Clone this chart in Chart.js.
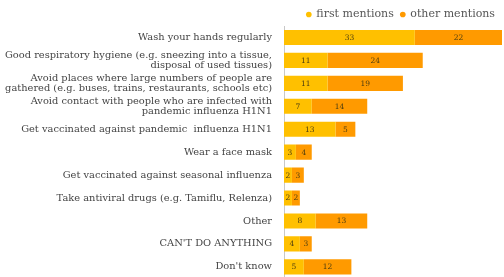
<!DOCTYPE html>
<html>
<head>
<meta charset="utf-8">
<script src="https://cdn.jsdelivr.net/npm/chart.js@4"></script>
<style>
  html, body { margin: 0; padding: 0; background: #fff; }
  #wrap { width: 504px; height: 277px; position: relative; overflow: hidden; }
  #chartOne { display: block; }
</style>
</head>
<body>
<div id="wrap"><canvas id="chartOne"></canvas></div>
<script>
var categories = [
    'Wash your hands regularly',
    ['Good respiratory hygiene (e.g. sneezing into a tissue,', 'disposal of used tissues)'],
    ['Avoid places where large numbers of people are', 'gathered (e.g. buses, trains, restaurants, schools etc)'],
    ['Avoid contact with people who are infected with', 'pandemic influenza H1N1'],
    'Get vaccinated against pandemic  influenza H1N1',
    'Wear a face mask',
    'Get vaccinated against seasonal influenza',
    'Take antiviral drugs (e.g. Tamiflu, Relenza)',
    'Other',
    "CAN'T DO ANYTHING",
    "Don't know"
];
var firstMentions = [33, 11, 11, 7, 13, 3, 2, 2, 8, 4, 5];
var otherMentions = [22, 24, 19, 14, 5, 4, 3, 2, 13, 3, 12];
var seriesNames = ['first mentions', 'other mentions'];

var serif = "'DejaVu Serif', 'Liberation Serif', serif";

var barLabels = {
    id: 'barLabels',
    afterDatasetsDraw: function (chart) {
        var ctx = chart.ctx;
        ctx.save();
        ctx.font = '7.5px ' + serif;
        ctx.fillStyle = '#4a3c10';
        ctx.textAlign = 'center';
        ctx.textBaseline = 'middle';
        chart.data.datasets.forEach(function (ds, i) {
            var meta = chart.getDatasetMeta(i);
            meta.data.forEach(function (bar, j) {
                var p = bar.getProps(['x', 'y', 'base'], true);
                ctx.fillText(ds.data[j], (p.x + p.base) / 2, p.y + 0.5);
            });
        });
        ctx.restore();
    }
};

var chartOne = document.getElementById('chartOne');
chartOne.width = 504;
chartOne.height = 295;
var myChart = new Chart(chartOne, {
    type: 'bar',
    data: {
        labels: categories,
        datasets: [{
            label: seriesNames[0],
            data: firstMentions,
            backgroundColor: '#ffc000',
            barPercentage: 0.66,
            categoryPercentage: 1
        }, {
            label: seriesNames[1],
            data: otherMentions,
            backgroundColor: '#ff9a00',
            barPercentage: 0.66,
            categoryPercentage: 1
        }]
    },
    options: {
        responsive: false,
        animation: false,
        indexAxis: 'y',
        layout: { padding: { left: 0, right: 2, top: 2, bottom: 0 } },
        plugins: {
            legend: {
                position: 'top',
                align: 'end',
                labels: {
                    usePointStyle: true,
                    pointStyle: 'circle',
                    boxWidth: 4,
                    boxHeight: 4,
                    padding: 7,
                    color: '#555',
                    font: { family: serif, size: 11 }
                }
            },
            tooltip: { enabled: false }
        },
        scales: {
            x: {
                stacked: true,
                display: false,
                min: 0,
                max: 55
            },
            y: {
                stacked: true,
                grid: { display: false, drawTicks: false },
                border: { display: true, color: '#c8c8c8', width: 1 },
                afterFit: function (scale) { scale.width = 284; },
                ticks: {
                    padding: 12,
                    color: '#444',
                    autoSkip: false,
                    font: { family: serif, size: 9.85, lineHeight: 0.95 }
                }
            }
        }
    },
    plugins: [barLabels]
});

// the legend box is a bit taller than in the original, trim it
var legendFit = myChart.legend.fit;
myChart.legend.fit = function () {
    legendFit.call(this);
    this.height -= 4;
};
myChart.update();
</script>
</body>
</html>
